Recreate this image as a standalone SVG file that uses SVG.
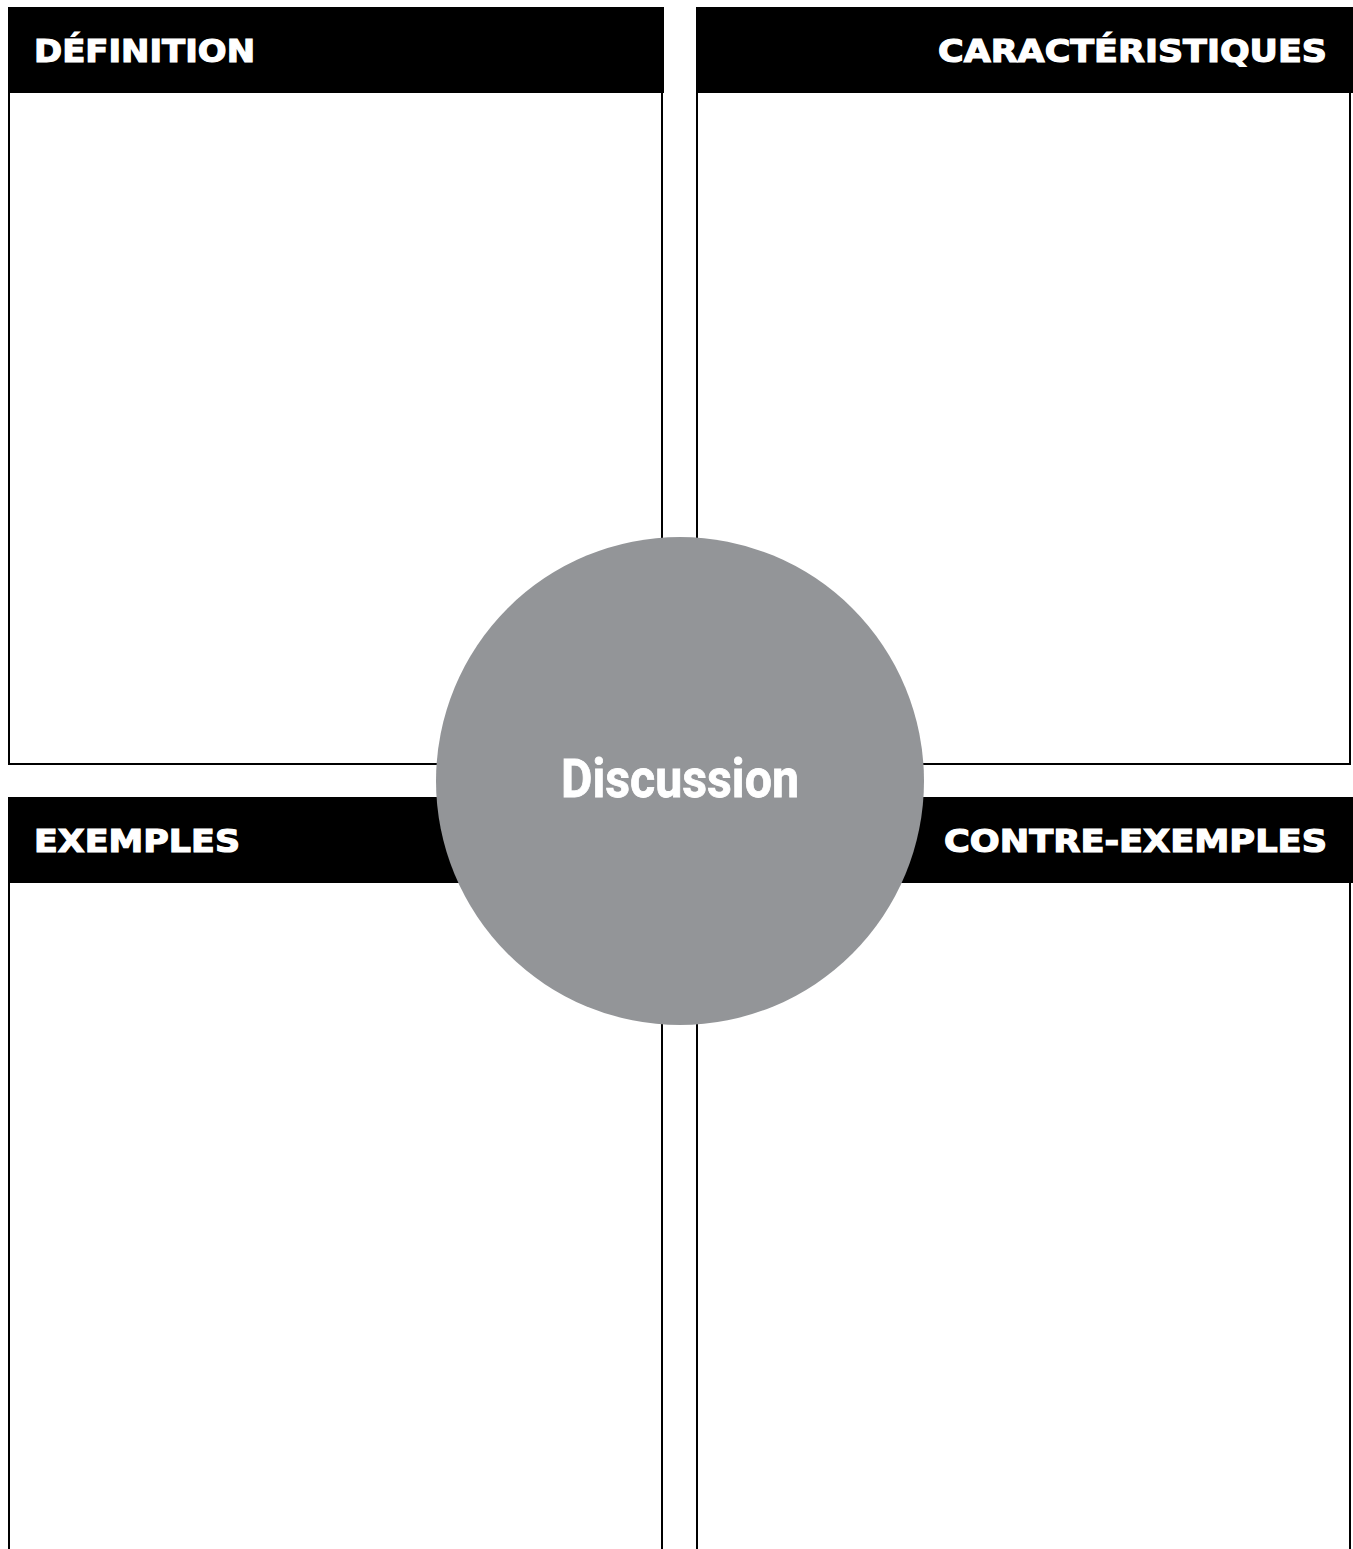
<svg xmlns="http://www.w3.org/2000/svg" width="1353" height="1549" viewBox="0 0 1353 1549">
<style>
.box{fill:#fff;stroke:#000;stroke-width:2}
.hdr{fill:#000}
.ht{font-family:"DejaVu Sans",sans-serif;font-weight:bold;font-size:32px;fill:#fff;stroke:#fff;stroke-width:1.2}
.ct{font-family:Roboto,"Liberation Sans",sans-serif;font-weight:bold;font-size:53px;fill:#fff;stroke:#fff;stroke-width:0.8}
</style>
<rect width="1353" height="1549" fill="#fff"/>
<g id="definition">
<rect class="box" x="9" y="92" width="653" height="672"/>
<rect class="hdr" x="8" y="7" width="656" height="86"/>
<text class="ht" x="34" y="62" textLength="221" lengthAdjust="spacingAndGlyphs">DÉFINITION</text>
</g>
<g id="caracteristiques">
<rect class="box" x="697" y="92" width="653" height="672"/>
<rect class="hdr" x="696" y="7" width="657" height="86"/>
<text class="ht" x="1327" y="62" text-anchor="end" textLength="389" lengthAdjust="spacingAndGlyphs">CARACTÉRISTIQUES</text>
</g>
<g id="exemples">
<rect class="box" x="9" y="882" width="653" height="680"/>
<rect class="hdr" x="8" y="797" width="656" height="86"/>
<text class="ht" x="34" y="852" textLength="206" lengthAdjust="spacingAndGlyphs">EXEMPLES</text>
</g>
<g id="contre-exemples">
<rect class="box" x="697" y="882" width="653" height="680"/>
<rect class="hdr" x="696" y="797" width="657" height="86"/>
<text class="ht" x="1327" y="852" text-anchor="end" textLength="383" lengthAdjust="spacingAndGlyphs">CONTRE-EXEMPLES</text>
</g>
<g id="connectors"></g>
<g id="discussion">
<circle cx="680" cy="781" r="244" fill="#939598"/>
<text class="ct" x="680" y="797" text-anchor="middle" textLength="238" lengthAdjust="spacingAndGlyphs">Discussion</text>
</g>
</svg>
